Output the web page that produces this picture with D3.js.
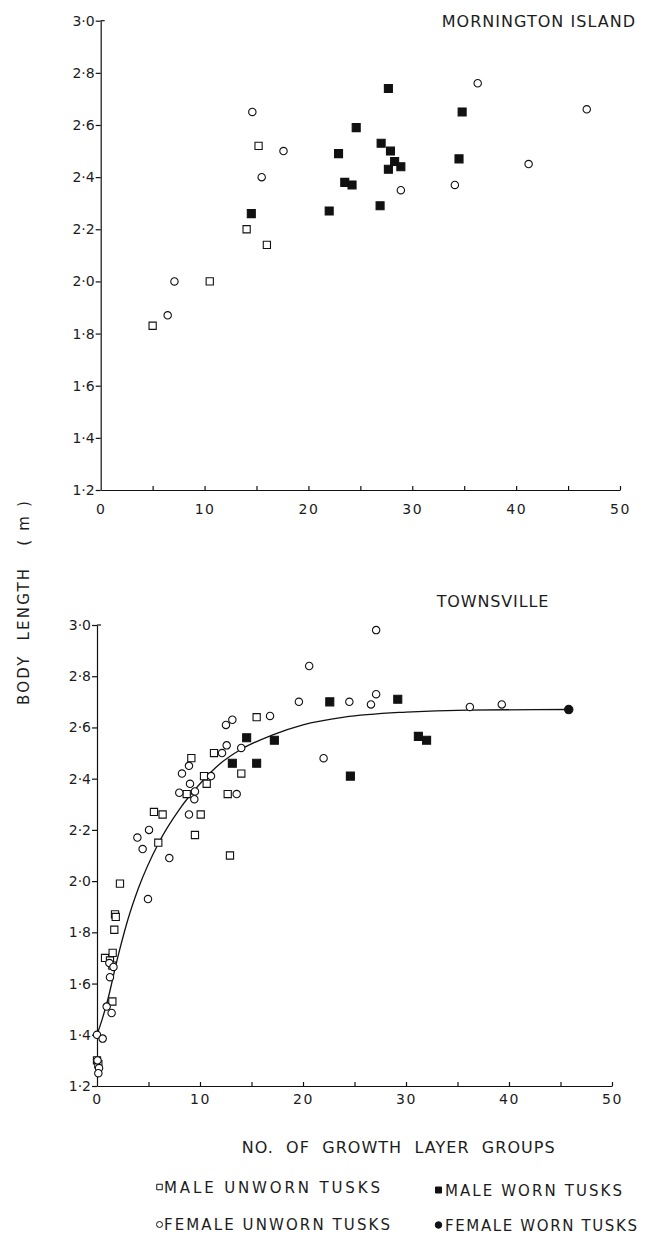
<!DOCTYPE html>
<html>
<head>
<meta charset="utf-8">
<script src="https://cdn.jsdelivr.net/npm/d3@7"></script>
<style>
  html, body { margin: 0; padding: 0; background: #fff; }
  svg { display: block; }
  text { font-family: "DejaVu Sans", sans-serif; fill: #1c1c1c; }
</style>
</head>
<body>
<svg id="fig" width="651" height="1236"></svg>
<script>
// ---- axis ticks ----
const yTickValues = [1.2, 1.4, 1.6, 1.8, 2.0, 2.2, 2.4, 2.6, 2.8, 3.0];
const xTickValues = [0, 5, 10, 15, 20, 25, 30, 35, 40, 45, 50];
const xLabelValues = [0, 10, 20, 30, 40, 50];

// ---- Mornington Island: [growth layer groups, body length (m)] ----
const mornMaleUnworn = [[5.0, 1.83], [10.5, 2.00], [14.05, 2.20], [15.2, 2.52], [16.0, 2.14]];
const mornFemaleUnworn = [[6.45, 1.87], [7.1, 2.00], [14.6, 2.65], [15.5, 2.40], [17.6, 2.50],
  [28.9, 2.35], [34.1, 2.37], [36.3, 2.76], [41.2, 2.45], [46.8, 2.66]];
const mornMaleWorn = [[14.5, 2.26], [22.0, 2.27], [22.9, 2.49], [23.5, 2.38], [24.2, 2.37],
  [24.6, 2.59], [26.9, 2.29], [27.0, 2.53], [27.7, 2.74], [27.9, 2.50], [28.3, 2.46],
  [28.9, 2.44], [27.7, 2.43], [34.5, 2.47], [34.8, 2.65]];
const mornFemaleWorn = [];

// ---- Townsville ----
const townMaleUnworn = [[0.0, 1.30], [0.13, 1.285], [0.78, 1.70], [1.26, 1.69], [1.49, 1.67],
  [1.52, 1.72], [1.68, 1.81], [1.75, 1.87], [1.82, 1.86], [1.49, 1.53], [2.23, 1.99],
  [5.53, 2.27], [5.95, 2.15], [6.37, 2.26], [8.71, 2.34], [9.16, 2.48], [9.51, 2.18],
  [10.07, 2.26], [10.39, 2.41], [10.65, 2.38], [11.36, 2.50], [12.69, 2.34], [12.91, 2.10],
  [14.01, 2.42], [15.5, 2.64]];
const townFemaleUnworn = [[0.0, 1.40], [0.55, 1.385], [0.05, 1.30], [0.2, 1.27], [0.13, 1.25],
  [0.94, 1.51], [1.42, 1.485], [1.26, 1.625], [1.2, 1.68], [1.6, 1.665], [3.92, 2.17],
  [4.43, 2.125], [4.95, 1.93], [5.05, 2.20], [7.02, 2.09], [7.99, 2.345], [8.25, 2.42],
  [8.93, 2.45], [8.93, 2.26], [9.03, 2.38], [9.45, 2.32], [9.51, 2.35], [11.07, 2.41],
  [12.14, 2.50], [12.52, 2.61], [12.59, 2.53], [13.14, 2.63], [13.56, 2.34], [14.0, 2.52],
  [16.8, 2.645], [19.6, 2.70], [20.6, 2.84], [22.0, 2.48], [24.5, 2.70], [26.6, 2.69],
  [27.1, 2.73], [27.1, 2.98], [36.2, 2.68], [39.3, 2.69]];
const townMaleWorn = [[13.14, 2.46], [14.53, 2.56], [15.5, 2.46], [17.22, 2.55], [22.6, 2.70],
  [24.6, 2.41], [29.2, 2.71], [31.2, 2.565], [32.0, 2.55]];
const townFemaleWorn = [[45.8, 2.67]];

// fitted growth curve for Townsville, points along the drawn line
const townCurve = [[0, 1.40], [0.5, 1.46], [1, 1.53], [2, 1.70], [3, 1.85], [4, 1.97],
  [6, 2.15], [8, 2.28], [10, 2.38], [12, 2.46], [14, 2.515], [17, 2.57], [20, 2.61],
  [24, 2.64], [30, 2.66], [36, 2.668], [45.8, 2.67]];

const svg = d3.select("#fig");
const INK = "#111";

const fmtY = d => d3.format(".1f")(d).replace(".", "\u00b7");

const sym = {
  square: d3.symbol().type(d3.symbolSquare).size(52)(),
  fsquare: d3.symbol().type(d3.symbolSquare).size(64)(),
  circle: d3.symbol().type(d3.symbolCircle).size(Math.PI * 3.7 * 3.7)(),
  fcircle: d3.symbol().type(d3.symbolCircle).size(Math.PI * 4.2 * 4.2)()
};

function panel(cfg) {
  const x = d3.scaleLinear().domain([0, 50]).range(cfg.xRange);
  const y = d3.scaleLinear().domain([1.2, 3.0]).range(cfg.yRange);
  const g = svg.append("g");

  // y axis: outward ticks with labels
  const ya = g.append("g")
    .attr("transform", `translate(${cfg.xRange[0]},0)`)
    .call(d3.axisLeft(y).tickValues(yTickValues).tickFormat(fmtY)
      .tickSize(5).tickSizeOuter(0).tickPadding(1));
  ya.selectAll("path, line").attr("stroke", INK).attr("stroke-width", 1.2);
  ya.selectAll("text").style("font-size", "14px").attr("fill", "#1c1c1c");
  // small stub at the top of the axis
  g.append("line")
    .attr("x1", cfg.xRange[0]).attr("x2", cfg.xRange[0] + 4)
    .attr("y1", y(3.0)).attr("y2", y(3.0))
    .attr("stroke", INK).attr("stroke-width", 1.2);

  // x axis: short inward ticks every 5, labels every 10
  const xa = g.append("g")
    .attr("transform", `translate(0,${cfg.yRange[0]})`)
    .call(d3.axisBottom(x).tickValues(xTickValues)
      .tickFormat(d => xLabelValues.includes(d) ? String(d) : "")
      .tickSize(-4).tickSizeOuter(0).tickPadding(cfg.xPad));
  xa.selectAll("path, line").attr("stroke", INK).attr("stroke-width", 1.2);
  xa.selectAll("text").style("font-size", "14px").attr("fill", "#1c1c1c")
    .style("letter-spacing", "1.5px");
  xa.selectAll(".tick").filter(d => d === 0).select("line").remove();

  // fitted curve
  if (cfg.curve) {
    g.append("path")
      .datum(cfg.curve)
      .attr("fill", "none").attr("stroke", INK).attr("stroke-width", 1.3)
      .attr("d", d3.line().x(d => x(d[0])).y(d => y(d[1])).curve(d3.curveMonotoneX));
  }

  const layers = [
    [cfg.maleUnworn, sym.square, "#fff"],
    [cfg.femaleUnworn, sym.circle, "#fff"],
    [cfg.maleWorn, sym.fsquare, INK],
    [cfg.femaleWorn, sym.fcircle, INK]
  ];
  layers.forEach(([data, path, fill]) => {
    g.append("g").selectAll("path").data(data).join("path")
      .attr("d", path)
      .attr("transform", d => `translate(${x(d[0])},${y(d[1])})`)
      .attr("fill", fill).attr("stroke", INK).attr("stroke-width", 1.1);
  });

  g.append("text")
    .attr("x", cfg.title.x).attr("y", cfg.title.y)
    .attr("textLength", cfg.title.len).attr("lengthAdjust", "spacing")
    .style("font-size", "16px")
    .text(cfg.title.text);
}

panel({
  xRange: [100.7, 620], yRange: [490, 20.7], xPad: 14,
  maleUnworn: mornMaleUnworn, femaleUnworn: mornFemaleUnworn,
  maleWorn: mornMaleWorn, femaleWorn: mornFemaleWorn,
  title: { text: "MORNINGTON ISLAND", x: 441.7, y: 26.7, len: 193.3 }
});

panel({
  xRange: [97, 612], yRange: [1086, 625], xPad: 8,
  maleUnworn: townMaleUnworn, femaleUnworn: townFemaleUnworn,
  maleWorn: townMaleWorn, femaleWorn: townFemaleWorn,
  curve: townCurve,
  title: { text: "TOWNSVILLE", x: 436.7, y: 607.3, len: 111.6 }
});

// shared axis titles
svg.append("text")
  .attr("transform", "translate(28.5,603) rotate(-90)")
  .attr("text-anchor", "middle")
  .attr("textLength", 204).attr("lengthAdjust", "spacing")
  .style("font-size", "15px").style("white-space", "pre")
  .text("BODY  LENGTH   ( m )");

svg.append("text")
  .attr("x", 241.7).attr("y", 1153)
  .attr("textLength", 313).attr("lengthAdjust", "spacing")
  .style("font-size", "16px").style("white-space", "pre")
  .text("NO.  OF  GROWTH  LAYER  GROUPS");

// legend
const legendItems = [
  { label: "MALE UNWORN TUSKS", path: d3.symbol().type(d3.symbolSquare).size(30)(), fill: "#fff", sx: 159.5, sy: 1187, tx: 164, ty: 1193, len: 216 },
  { label: "MALE WORN TUSKS", path: d3.symbol().type(d3.symbolSquare).size(36)(), fill: INK, sx: 438.5, sy: 1190, tx: 445, ty: 1196, len: 177 },
  { label: "FEMALE UNWORN TUSKS", path: d3.symbol().type(d3.symbolCircle).size(28)(), fill: "#fff", sx: 159.5, sy: 1224.5, tx: 164, ty: 1230, len: 226 },
  { label: "FEMALE WORN TUSKS", path: d3.symbol().type(d3.symbolCircle).size(34)(), fill: INK, sx: 438.5, sy: 1225, tx: 445, ty: 1230.5, len: 192 }
];
const lg = svg.append("g").selectAll("g").data(legendItems).join("g");
lg.append("path")
  .attr("d", d => d.path)
  .attr("transform", d => `translate(${d.sx},${d.sy})`)
  .attr("fill", d => d.fill).attr("stroke", INK).attr("stroke-width", 1);
lg.append("text")
  .attr("x", d => d.tx).attr("y", d => d.ty)
  .attr("textLength", d => d.len).attr("lengthAdjust", "spacing")
  .style("font-size", "15px")
  .text(d => d.label);
</script>
</body>
</html>
